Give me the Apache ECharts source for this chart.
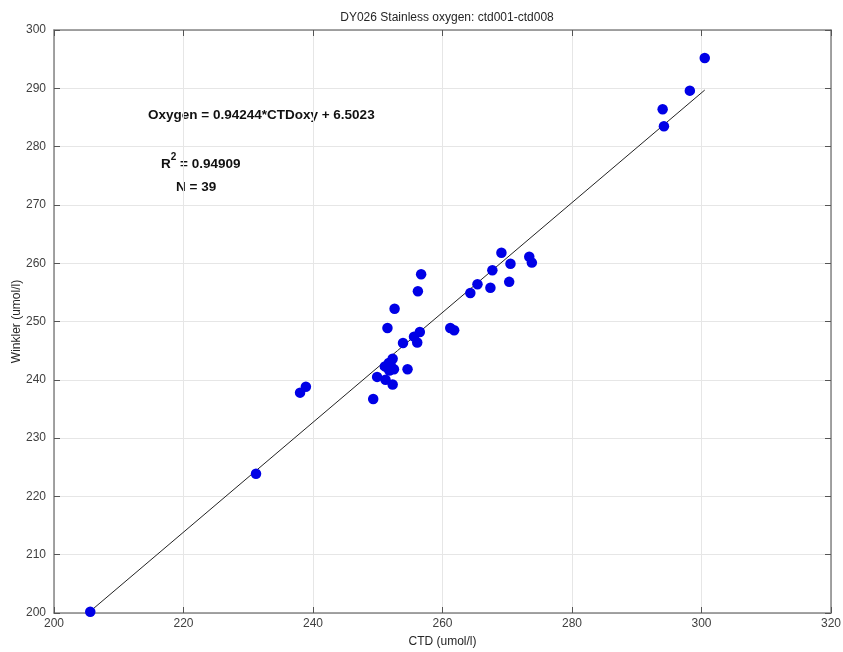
<!DOCTYPE html>
<html>
<head>
	<meta charset="utf-8">
	<title>DY026 Stainless oxygen</title>
	<script src="https://cdn.jsdelivr.net/npm/echarts@6/dist/echarts.min.js"></script>
	<style>
		html, body { margin: 0; padding: 0; background: #fff; }
	</style>
</head>
<body>
	<div id="main" style="width: 843px;height: 652px"></div>
	<script type="text/javascript">
		// CTD oxygen (x) vs Winkler oxygen (y)
		var ctdOxy = [205.6, 231.2, 238.0, 238.9, 249.3, 249.9, 251.2, 252.3, 251.4, 252.5,
			251.1, 251.7, 252.3, 254.6, 253.9, 256.1, 255.6, 256.5, 251.5, 252.6,
			256.2, 256.7, 261.2, 261.8, 264.3, 265.4, 267.4, 267.7, 269.1, 270.3,
			270.5, 273.4, 273.8, 294.0, 294.2, 298.2, 300.5, 252.0, 251.8];
		var winkler = [200.2, 223.9, 237.8, 238.8, 236.7, 240.5, 240.0, 239.2, 242.2, 241.8,
			242.3, 242.9, 243.6, 241.8, 246.3, 246.4, 247.4, 248.2, 248.9, 252.2,
			255.2, 258.1, 248.9, 248.5, 254.9, 256.4, 255.8, 258.8, 261.8, 256.8,
			259.9, 261.1, 260.1, 286.4, 283.5, 289.6, 295.2, 242.5, 241.6];
		// regression line end points
		var fitX = [205.6, 300.5];
		var fitY = [200.3, 289.7];

		var points = ctdOxy.map(function (x, i) { return [x, winkler[i]]; });
		var fitLine = fitX.map(function (x, i) { return [x, fitY[i]]; });

		var myChart = echarts.init(document.getElementById('main'));
		var axisLine = {show: true, lineStyle: {color: '#858585', width: 1.5}};
		var tick = {show: true, inside: true, length: 6, lineStyle: {color: '#555', width: 1}};
		var font = 'Liberation Sans, Arial, sans-serif';
		var noteStyle = {fontSize: 13.5, fontWeight: 'bold', fill: '#111', fontFamily: font};

		var option = {
			backgroundColor: '#fff',
			animation: false,
			title: {
				text: 'DY026 Stainless oxygen: ctd001-ctd008',
				left: 442,
				textAlign: 'center',
				top: 7,
				textStyle: {fontSize: 12, fontWeight: 'normal', color: '#262626', fontFamily: font}
			},
			grid: {left: 54, right: 12, top: 30, bottom: 39, containLabel: false, outerBoundsMode: 'none'},
			xAxis: [{
				type: 'value', min: 200, max: 320, interval: 20,
				name: 'CTD (umol/l)', nameLocation: 'middle', nameGap: 23, nameMoveOverlap: false,
				nameTextStyle: {fontSize: 12, color: '#262626', fontFamily: font},
				axisLine: axisLine, axisTick: tick,
				axisLabel: {fontSize: 12, color: '#404040', fontFamily: font, margin: 5},
				splitLine: {show: true, lineStyle: {color: '#e6e6e6'}}
			}, {
				type: 'value', min: 200, max: 320, interval: 20, position: 'top',
				axisLine: axisLine, axisTick: tick, axisLabel: {show: false}, splitLine: {show: false}
			}],
			yAxis: [{
				type: 'value', min: 200, max: 300, interval: 10,
				name: 'Winkler (umol/l)', nameLocation: 'middle', nameGap: 31, nameMoveOverlap: false,
				nameTextStyle: {fontSize: 12, color: '#262626', fontFamily: font},
				axisLine: axisLine, axisTick: tick,
				axisLabel: {fontSize: 12, color: '#404040', fontFamily: font, margin: 8},
				splitLine: {show: true, lineStyle: {color: '#e6e6e6'}}
			}, {
				type: 'value', min: 200, max: 300, interval: 10, position: 'right',
				axisLine: axisLine, axisTick: tick, axisLabel: {show: false}, splitLine: {show: false}
			}],
			series: [
				{
					name: 'fit',
					type: 'line',
					data: fitLine,
					symbol: 'none',
					lineStyle: {color: '#222', width: 1},
					z: 2
				},
				{
					name: 'samples',
					type: 'scatter',
					data: points,
					symbolSize: 10.5,
					itemStyle: {color: '#0000e6', opacity: 1},
					z: 3
				}
			],
			graphic: [
				{
					type: 'text', left: 148, top: 108,
					style: {text: 'Oxygen = 0.94244*CTDoxy + 6.5023', fontSize: noteStyle.fontSize, fontWeight: 'bold', fill: noteStyle.fill, fontFamily: font}
				},
				{
					type: 'text', left: 161, top: 152,
					style: {
						text: '{b|R}{s|2}{b| = 0.94909}',
						rich: {
							b: {fontSize: 13.5, fontWeight: 'bold', fill: '#111', fontFamily: font, verticalAlign: 'bottom', lineHeight: 19},
							s: {fontSize: 10, fontWeight: 'bold', fill: '#111', fontFamily: font, verticalAlign: 'top', lineHeight: 19}
						}
					}
				},
				{
					type: 'text', left: 176, top: 180,
					style: {text: 'N = 39', fontSize: noteStyle.fontSize, fontWeight: 'bold', fill: noteStyle.fill, fontFamily: font}
				}
			]
		};
		myChart.setOption(option);
	</script>
</body>
</html>
